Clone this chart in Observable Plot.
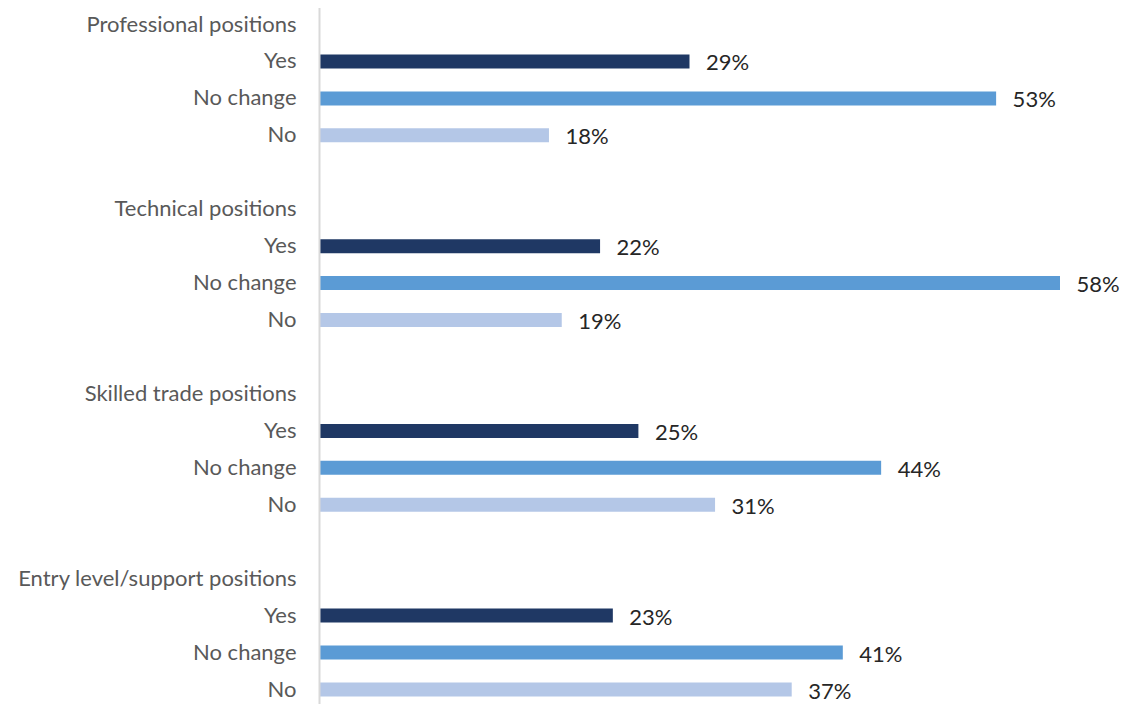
<!DOCTYPE html>
<html>
<head>
<meta charset="utf-8">
<script src="https://cdn.jsdelivr.net/npm/d3@7"></script>
<script src="https://cdn.jsdelivr.net/npm/@observablehq/plot@0.6"></script>
<style>
  html, body { margin: 0; padding: 0; background: #fff; }
  #chart svg { display: block; }
</style>
</head>
<body>
<div id="chart"></div>
<script>
const groups = ["Professional positions", "Technical positions", "Skilled trade positions", "Entry level/support positions"];
const responses = ["Yes", "No change", "No"];
const yesValues = [29, 22, 25, 23];
const noChangeValues = [53, 58, 44, 41];
const noValues = [18, 19, 31, 37];
const colors = ["#1f3864", "#5b9bd5", "#b4c7e7"];

const seriesValues = [yesValues, noChangeValues, noValues];

// Row order: header, Yes, No change, No, gap ... (row = position index)
const rows = [];
const bars = [];
let row = 0;
groups.forEach((g, gi) => {
  rows.push({row: row++, label: g});
  responses.forEach((r, ri) => {
    rows.push({row, label: r});
    bars.push({row, response: r, value: seriesValues[ri][gi]});
    row++;
  });
  row++; // gap row
});
const lastRow = row - 2;

const chart = Plot.plot({
  width: 1127,
  height: 704,
  marginLeft: 319,
  marginRight: 0,
  marginTop: 8,
  marginBottom: 0,
  style: {fontFamily: "Lato, 'Open Sans', sans-serif", fontSize: "22px", background: "#fff"},
  x: {domain: [0, 58], range: [319, 1060], axis: null},
  y: {type: "linear", domain: [0, lastRow], range: [24, 689], axis: null},
  color: {domain: responses, range: colors},
  marks: [
    Plot.ruleY(bars, {y: "row", x1: 0, x2: "value", stroke: "response", strokeWidth: 14}),
    Plot.ruleX([0], {stroke: "#d9d9d9", strokeWidth: 2}),
    Plot.text(rows, {x: 0, y: "row", text: "label", textAnchor: "end", dx: -23, fill: "#595959", fontSize: 22}),
    Plot.text(bars, {x: "value", y: "row", text: d => `${d.value}%`, textAnchor: "start", dx: 16, dy: 2, fill: "#262626", fontSize: 22})
  ]
});
document.getElementById("chart").appendChild(chart);
</script>
</body>
</html>
